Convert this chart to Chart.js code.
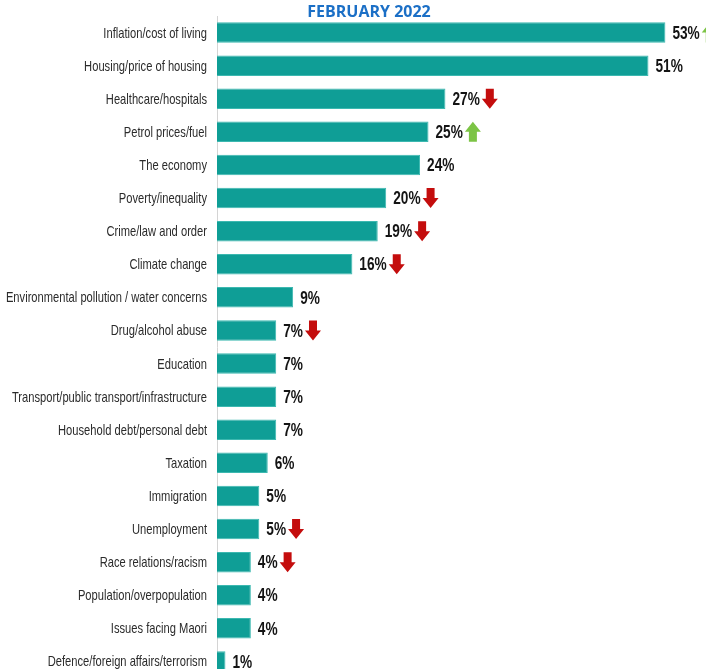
<!DOCTYPE html>
<html>
<head>
<meta charset="utf-8">
<script src="https://cdn.jsdelivr.net/npm/chart.js@4"></script>
<style>
  html, body { margin: 0; padding: 0; background: #fff; overflow: hidden; }
  #wrap { width: 706px; height: 690px; }
</style>
</head>
<body>
<div id="wrap"><canvas id="issuesChart" width="706" height="690"></canvas></div>
<script>
const issues = [
  'Inflation/cost of living', 'Housing/price of housing', 'Healthcare/hospitals',
  'Petrol prices/fuel', 'The economy', 'Poverty/inequality', 'Crime/law and order',
  'Climate change', 'Environmental pollution / water concerns', 'Drug/alcohol abuse',
  'Education', 'Transport/public transport/infrastructure', 'Household debt/personal debt',
  'Taxation', 'Immigration', 'Unemployment', 'Race relations/racism',
  'Population/overpopulation', 'Issues facing Maori', 'Defence/foreign affairs/terrorism'
];
const shares = [53, 51, 27, 25, 24, 20, 19, 16, 9, 7, 7, 7, 7, 6, 5, 5, 4, 4, 4, 1];
// movement since the previous survey
const trend = ['up', '', 'down', 'up', '', 'down', 'down', 'down', '', 'down',
  '', '', '', '', '', 'down', 'down', '', '', ''];
const surveyTitle = 'FEBRUARY 2022';

const sans = "'Liberation Sans', Arial, sans-serif";
// no narrow face installed, so text gets squeezed horizontally
const labelSqueeze = 0.77;
const valueSqueeze = 0.72;

// category names, right aligned against the axis
const categoryLabels = {
  id: 'categoryLabels',
  afterDraw(chart) {
    const ctx = chart.ctx;
    const yScale = chart.scales.y;
    const right = yScale.right - 10;
    ctx.save();
    ctx.font = '14.5px ' + sans;
    ctx.fillStyle = '#2b2b2b';
    ctx.textBaseline = 'middle';
    ctx.textAlign = 'right';
    ctx.scale(labelSqueeze, 1);
    issues.forEach((name, i) => {
      ctx.fillText(name, right / labelSqueeze, yScale.getPixelForTick(i) + 1);
    });
    ctx.restore();
  }
};

// value labels plus the up/down arrows next to them
const valueLabels = {
  id: 'valueLabels',
  afterDatasetsDraw(chart) {
    const ctx = chart.ctx;
    const meta = chart.getDatasetMeta(0);
    ctx.save();
    ctx.font = 'bold 19px ' + sans;
    ctx.textBaseline = 'middle';
    ctx.textAlign = 'left';
    meta.data.forEach((bar, i) => {
      const text = shares[i] + '%';
      const x = bar.x + 7;
      const w = ctx.measureText(text).width * valueSqueeze;
      ctx.save();
      ctx.scale(valueSqueeze, 1);
      ctx.fillStyle = '#141414';
      ctx.fillText(text, x / valueSqueeze, bar.y + 1);
      ctx.restore();
      if (trend[i]) drawArrow(ctx, x + w + 2, bar.y, trend[i]);
    });
    ctx.restore();
  }
};

function drawArrow(ctx, left, cy, dir) {
  const hw = 8, sw = 4, h = 20, head = 10;
  const cx = left + hw;
  const top = cy - h / 2, bot = cy + h / 2;
  ctx.beginPath();
  if (dir === 'down') {
    ctx.moveTo(cx - sw, top);
    ctx.lineTo(cx + sw, top);
    ctx.lineTo(cx + sw, bot - head);
    ctx.lineTo(cx + hw, bot - head);
    ctx.lineTo(cx, bot);
    ctx.lineTo(cx - hw, bot - head);
    ctx.lineTo(cx - sw, bot - head);
    ctx.fillStyle = '#c40d0d';
  } else {
    ctx.moveTo(cx - sw, bot);
    ctx.lineTo(cx + sw, bot);
    ctx.lineTo(cx + sw, top + head);
    ctx.lineTo(cx + hw, top + head);
    ctx.lineTo(cx, top);
    ctx.lineTo(cx - hw, top + head);
    ctx.lineTo(cx - sw, top + head);
    ctx.fillStyle = '#7cc445';
  }
  ctx.closePath();
  ctx.fill();
}

const headline = {
  id: 'headline',
  afterDraw(chart) {
    const ctx = chart.ctx;
    ctx.save();
    ctx.font = "bold 16px 'Open Sans', sans-serif";
    ctx.fillStyle = '#1b6fc6';
    ctx.textAlign = 'center';
    ctx.textBaseline = 'middle';
    ctx.fillText(surveyTitle, 369, 12.5);
    ctx.restore();
  }
};

new Chart(document.getElementById('issuesChart'), {
  type: 'bar',
  data: {
    labels: issues,
    datasets: [{
      data: shares,
      backgroundColor: '#0f9e96',
      borderColor: '#3cb8b0',
      borderWidth: 1,
      categoryPercentage: 1,
      barPercentage: 0.62
    }]
  },
  options: {
    indexAxis: 'y',
    responsive: false,
    animation: false,
    layout: { padding: { top: 16, bottom: 12, left: 0, right: 0 } },
    plugins: {
      legend: { display: false },
      tooltip: { enabled: false }
    },
    scales: {
      x: { display: false, min: 0, max: 57.8 },
      y: {
        afterFit(scale) { scale.width = 217; },
        grid: { display: false, drawTicks: false },
        border: { display: true, color: '#d4d4d4', width: 1 },
        ticks: { display: false }
      }
    }
  },
  plugins: [valueLabels, categoryLabels, headline]
});
</script>
</body>
</html>
